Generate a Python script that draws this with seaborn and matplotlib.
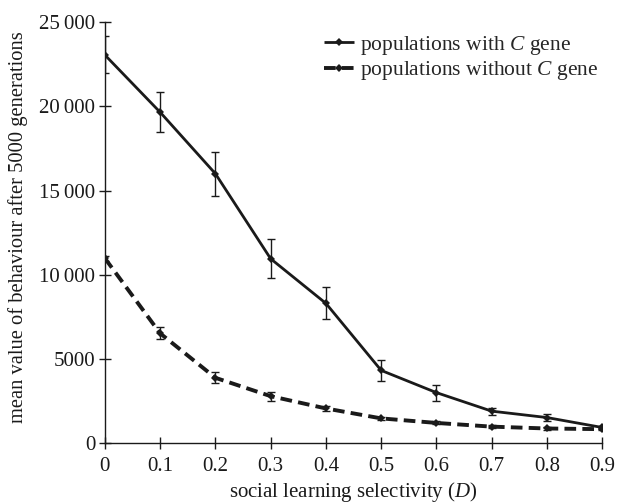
import matplotlib
matplotlib.use("Agg")
import matplotlib.pyplot as plt
import seaborn as sns
import pandas as pd

D = [0, 0.1, 0.2, 0.3, 0.4, 0.5, 0.6, 0.7, 0.8, 0.9]
with_c = [23050, 19650, 16000, 10950, 8300, 4320, 3000, 1900, 1520, 930]
with_c_err = [1100, 1200, 1300, 1150, 950, 620, 470, 200, 200, 100]
without_c = [10980, 6520, 3880, 2790, 2060, 1470, 1200, 980, 870, 830]
without_c_err = [150, 350, 320, 260, 170, 100, 90, 80, 70, 60]
yticks = [0, 5000, 10000, 15000, 20000, 25000]
ytick_labels = ["0", "5000", "10\u2009000", "15\u2009000", "20\u2009000", "25\u2009000"]
xtick_labels = ["0", "0.1", "0.2", "0.3", "0.4", "0.5", "0.6", "0.7", "0.8", "0.9"]
label_with = r"populations with $C$ gene"
label_without = r"populations without $C$ gene"

sns.set_theme(style="ticks")
plt.rcParams["font.family"] = ["Liberation Serif", "DejaVu Serif"]
plt.rcParams["mathtext.fontset"] = "custom"
plt.rcParams["mathtext.rm"] = "Liberation Serif"
plt.rcParams["mathtext.it"] = "Liberation Serif:italic"

df = pd.DataFrame({
    "D": D * 2,
    "value": with_c + without_c,
    "series": [label_with] * len(D) + [label_without] * len(D),
})

fig = plt.figure(figsize=(6.17, 5.03), dpi=100)
ax = fig.add_axes([0.170, 0.119, 0.806, 0.837])

col = "#1a1a1a"
sns.lineplot(data=df, x="D", y="value", hue="series", style="series",
             palette=[col, col], dashes=[(1, 0), (3.0, 1.6)], markers=["D", "D"],
             markersize=4.5, markeredgewidth=0, ax=ax, legend=True)
main_lines = list(ax.get_lines())
main_lines[0].set_linewidth(2.0)
main_lines[1].set_linewidth(2.8)

ax.errorbar(D, with_c, yerr=with_c_err, fmt="none", ecolor=col, elinewidth=1.0, capsize=3, capthick=1.0)
ax.errorbar(D, without_c, yerr=without_c_err, fmt="none", ecolor=col, elinewidth=1.0, capsize=3, capthick=1.0)

ax.set_xlim(0, 0.9)
ax.set_ylim(0, 25000)
ax.set_xticks(D)
ax.set_xticklabels(xtick_labels)
ax.set_yticks(yticks)
ax.set_yticklabels(ytick_labels)
ax.tick_params(axis="both", direction="inout", length=8, width=1.0, colors=col, labelsize=15, labelcolor=col)
ax.tick_params(axis="x", pad=6)
ax.tick_params(axis="y", pad=3)
for s in ["top", "right"]:
    ax.spines[s].set_visible(False)
for s in ["left", "bottom"]:
    ax.spines[s].set_color(col)
    ax.spines[s].set_linewidth(1.0)
ax.set_xlabel(r"social learning selectivity ($D$)", fontsize=15, color=col, labelpad=3)
ax.set_ylabel("mean value of behaviour after 5000 generations", fontsize=14.8, color=col)
ax.yaxis.set_label_coords(-0.155, 0.513)

h, l = ax.get_legend_handles_labels()
for hh in h:
    hh.set_markersize(4)
h[0].set_linewidth(2.0)
h[1].set_linewidth(2.8)
ax.legend(h, l, loc="upper left", bbox_to_anchor=(0.44, 0.972), frameon=False, fontsize=15.5,
          handlelength=1.4, handletextpad=0.3, labelspacing=0.1, borderaxespad=0, borderpad=0)

fig.savefig("out.png", dpi=100)
